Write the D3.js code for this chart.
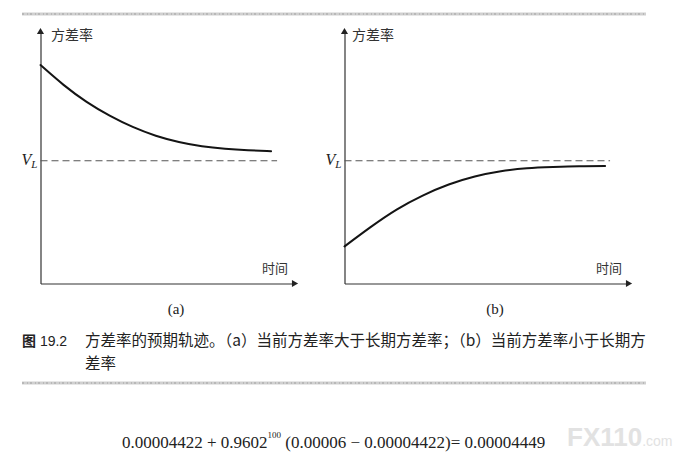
<!DOCTYPE html>
<html>
<head>
<meta charset="utf-8">
<script src="https://cdn.jsdelivr.net/npm/d3@7"></script>
<style>
  html, body { margin: 0; padding: 0; background: #fff; }
  svg { display: block; }
</style>
</head>
<body>
<svg id="chart" width="682" height="453"></svg>
<script>
// time steps along the horizontal axis
const TIME = [0, 1, 2, 3, 4, 5, 6, 7, 8, 9, 10];
// expected variance path (arbitrary units)
const VAR_A = [87.2, 79.3, 72.5, 67, 62.5, 59, 56.5, 54.8, 53.8, 53.2, 52.8];
const VAR_B = [14.8, 22.5, 29.5, 35.1, 39.5, 42.7, 44.8, 46.0, 46.5, 46.8, 46.9];
const V_L = 49;

const PANEL_LABELS = ["(a)", "(b)"];
const Y_LABEL = "方差率";
const X_LABEL = "时间";

const CAPTION_NUM = ["图", " 19.2"];
const CAPTION_LINES = [
  "方差率的预期轨迹。（a）当前方差率大于长期方差率；（b）当前方差率小于长期方",
  "差率",
];

const FORMULA = ["0.00004422 + 0.9602", "100", " (0.00006 − 0.00004422)= 0.00004449"];
const WATERMARK = ["FX110", ".com"];

const CJK = "'Noto Sans CJK SC', sans-serif";
const SERIF = "'Liberation Serif', 'DejaVu Serif', serif";

const svg = d3.select("#chart");
svg.append("rect").attr("width", 682).attr("height", 453).attr("fill", "#fff");

const TOP = 33;
const BOTTOM = 283.5;

const panels = [
  { left: 40.5, right: 293, xMax: 10.95, dashEnd: 10.26, values: VAR_A, yLabelX: 51, label: PANEL_LABELS[0], labelX: 176 },
  { left: 344.5, right: 627, xMax: 10.84, dashEnd: 10.19, values: VAR_B, yLabelX: 352, label: PANEL_LABELS[1], labelX: 495 },
];

const y = d3.scaleLinear().domain([0, 100]).range([BOTTOM, TOP]);

panels.forEach((p) => {
  const g = svg.append("g");
  const x = d3.scaleLinear().domain([0, p.xMax]).range([p.left, p.right]);

  // axes without ticks, just the domain lines
  g.append("g")
    .attr("transform", "translate(0," + BOTTOM + ")")
    .call(d3.axisBottom(x).tickValues([]).tickSizeOuter(0))
    .select(".domain")
    .attr("stroke", "#333")
    .attr("stroke-width", 1.2);

  g.append("g")
    .attr("transform", "translate(" + p.left + ",0)")
    .call(d3.axisLeft(y).tickValues([]).tickSizeOuter(0))
    .select(".domain")
    .attr("stroke", "#333")
    .attr("stroke-width", 1.2);

  // arrow heads
  g.append("path")
    .attr("d", d3.symbol(d3.symbolTriangle, 22))
    .attr("transform", "translate(" + p.left + "," + (TOP - 1) + ")")
    .attr("fill", "#222");
  g.append("path")
    .attr("d", d3.symbol(d3.symbolTriangle, 22))
    .attr("transform", "translate(" + (p.right + 1) + "," + BOTTOM + ") rotate(90)")
    .attr("fill", "#222");

  // long-run variance level
  g.append("line")
    .attr("x1", x(0))
    .attr("x2", x(p.dashEnd))
    .attr("y1", y(V_L))
    .attr("y2", y(V_L))
    .attr("stroke", "#555")
    .attr("stroke-width", 1)
    .attr("stroke-dasharray", "7,4");

  const vl = g.append("text")
    .attr("x", p.left - 19)
    .attr("y", y(V_L) + 4)
    .style("font-family", SERIF)
    .style("font-style", "italic")
    .style("fill", "#222");
  vl.append("tspan").style("font-size", "16px").text("V");
  vl.append("tspan").style("font-size", "11px").attr("dy", 3).text("L");

  // variance path
  const line = d3.line()
    .curve(d3.curveNatural)
    .x((d, i) => x(TIME[i]))
    .y((d) => y(d));
  g.append("path")
    .datum(p.values)
    .attr("fill", "none")
    .attr("stroke", "#141414")
    .attr("stroke-width", 2)
    .attr("stroke-linecap", "round")
    .attr("d", line);

  g.append("text")
    .attr("x", p.yLabelX)
    .attr("y", 40)
    .style("font-family", CJK)
    .style("font-size", "14px")
    .style("fill", "#333")
    .text(Y_LABEL);

  g.append("text")
    .attr("x", p.right - 5)
    .attr("y", 273)
    .attr("text-anchor", "end")
    .style("font-family", CJK)
    .style("font-size", "13px")
    .style("fill", "#333")
    .text(X_LABEL);

  g.append("text")
    .attr("x", p.labelX)
    .attr("y", 314)
    .attr("text-anchor", "middle")
    .style("font-family", SERIF)
    .style("font-size", "15px")
    .style("fill", "#222")
    .text(p.label);
});

// gray rules above and below the figure
[14, 383].forEach((yy) => {
  svg.append("line")
    .attr("x1", 22).attr("x2", 646)
    .attr("y1", yy).attr("y2", yy)
    .attr("stroke", "#d0d0d0")
    .attr("stroke-width", 3);
  svg.append("line")
    .attr("x1", 22).attr("x2", 646)
    .attr("y1", yy).attr("y2", yy)
    .attr("stroke", "#b0b0b0")
    .attr("stroke-width", 1.5)
    .attr("stroke-dasharray", "2,3,1,2");
});

// caption
const num = svg.append("text")
  .attr("x", 22)
  .attr("y", 346)
  .style("font-size", "14px")
  .style("fill", "#222");
num.append("tspan").style("font-family", CJK).style("font-weight", "bold").text(CAPTION_NUM[0]);
num.append("tspan").style("font-family", "'Liberation Sans', sans-serif").text(CAPTION_NUM[1]);

CAPTION_LINES.forEach((t, i) => {
  svg.append("text")
    .attr("x", 85)
    .attr("y", 346 + i * 23)
    .style("font-family", CJK)
    .style("font-size", "15.5px")
    .style("fill", "#222")
    .text(t);
});

// formula
const f = svg.append("text")
  .attr("x", 122)
  .attr("y", 448)
  .style("font-family", SERIF)
  .style("font-size", "17px")
  .style("fill", "#222");
f.append("tspan").text(FORMULA[0]);
f.append("tspan").attr("dy", -10).style("font-size", "9px").text(FORMULA[1]);
f.append("tspan").attr("dy", 10).text(FORMULA[2]);

// watermark
const w = svg.append("text")
  .attr("x", 567)
  .attr("y", 446)
  .style("font-family", "'Liberation Sans', sans-serif")
  .style("font-weight", "bold")
  .style("fill", "#e2e2e2");
w.append("tspan").style("font-size", "26px").text(WATERMARK[0]);
w.append("tspan").style("font-size", "14px").style("font-weight", "normal").text(WATERMARK[1]);
</script>
</body>
</html>
